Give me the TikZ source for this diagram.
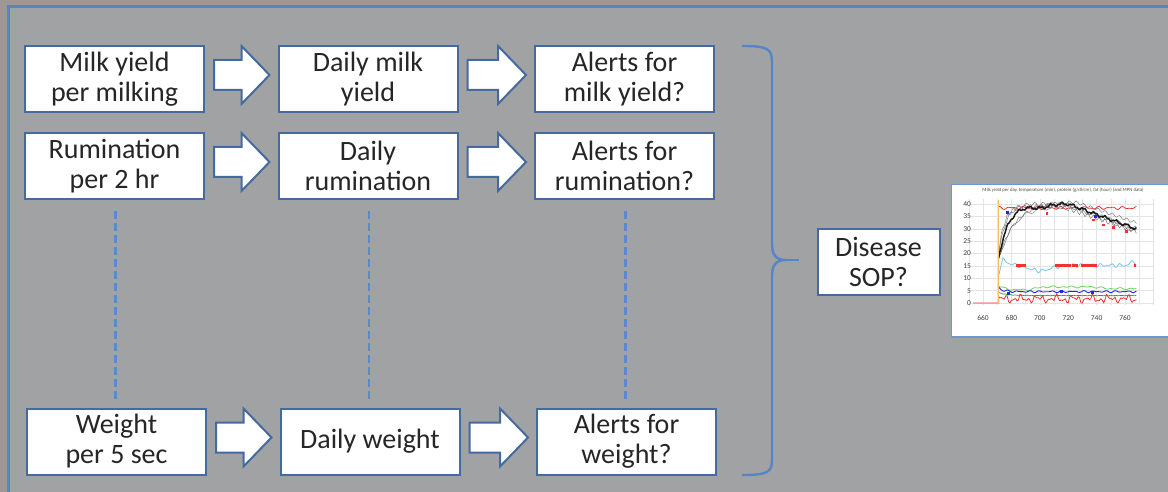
\documentclass[tikz,border=0pt]{standalone}
\usepackage{fontspec}
\setmainfont{Carlito}
\usetikzlibrary{calc}

\definecolor{outerbg}{RGB}{158,151,146}
\definecolor{innerbg}{RGB}{161,162,164}
\definecolor{frameblue}{RGB}{86,132,202}
\definecolor{boxblue}{RGB}{68,106,160}
\definecolor{dashblue}{RGB}{88,138,210}
\definecolor{txt}{RGB}{38,38,38}
\definecolor{chartblue}{RGB}{110,150,210}
\definecolor{gridc}{RGB}{228,228,228}
\definecolor{lblue}{RGB}{120,198,230}
\definecolor{pgreen}{RGB}{110,210,90}
\definecolor{dgreen}{RGB}{40,150,60}
\definecolor{pblue}{RGB}{30,40,220}
\definecolor{pred}{RGB}{240,50,50}
\definecolor{porange}{RGB}{250,190,90}

\tikzset{
  box/.style={draw=boxblue, line width=2pt, fill=white, text=txt, align=center,
    minimum width=179pt, minimum height=66pt, inner sep=0pt,
    font=\fontsize{28}{30}\selectfont},
  blockarrow/.style={draw=boxblue, line width=2pt, fill=white, line join=miter},
  dashline/.style={draw=dashblue, line width=2.8pt, dash pattern=on 8pt off 4pt},
  brace/.style={draw=frameblue, line width=2.4pt},
  ticklab/.style={font=\fontsize{7.5}{8}\selectfont, text=black!75, inner sep=0.5pt},
}

% white block arrow from the right side of one box to the left side of the next
\newcommand\blockarr[2]{%
  \path[blockarrow] let \p1=(#1.east), \p2=(#2.west) in
    ({\x1+9pt},{\y1+19pt}) -- ({\x2-36pt},{\y1+19pt}) -- ({\x2-36pt},{\y1+33pt})
    -- ({\x2-8pt},{\y1+4pt}) -- ({\x2-36pt},{\y1-25pt}) -- ({\x2-36pt},{\y1-11pt})
    -- ({\x1+9pt},{\y1-11pt}) -- cycle;}

\begin{document}
\begin{tikzpicture}[x=1pt,y=-1pt]
\useasboundingbox (0,0) rectangle (1168,492);

% background and frame
\fill[outerbg] (0,0) rectangle (1168,492);
\fill[innerbg] (8.5,6.5) rectangle (1180,500);
\draw[frameblue, line width=3pt] (1180,6.5) -- (8.5,6.5) -- (8.5,500);

% processing chain boxes
\node[box] (a1) at (114.5,79)  {Milk yield\\per milking};
\node[box] (b1) at (368,79)    {Daily milk\\yield};
\node[box] (c1) at (624.5,79)  {Alerts for\\milk yield?};

\node[box] (a2) at (114.5,166) {Rumination\\per 2 hr};
\node[box] (b2) at (368,166)   {Daily\\rumination};
\node[box] (c2) at (624.5,166) {Alerts for\\rumination?};

\node[box] (a3) at (116.5,441.5) {Weight\\per 5 sec};
\node[box] (b3) at (370,441.5)   {Daily weight};
\node[box] (c3) at (626.5,441.5) {Alerts for\\weight?};

% block arrows
\blockarr{a1}{b1}\blockarr{b1}{c1}
\blockarr{a2}{b2}\blockarr{b2}{c2}
\blockarr{a3}{b3}\blockarr{b3}{c3}

% dotted continuation between the rows
\draw[dashline] ($(a2.south)+(1,11)$) -- ($(a2.south |- a3.north)+(1,-7)$);
\draw[dashline] ($(b2.south)+(1,11)$) -- ($(b2.south |- b3.north)+(1,-7)$);
\draw[dashline] ($(c2.south)+(1,11)$) -- ($(c2.south |- c3.north)+(1,-7)$);

% disease SOP box
\node[box, minimum width=122pt, minimum height=66pt] (sop) at (878.5,261.5) {Disease\\SOP?};

% brace gathering all the alerts
\coordinate (braceTip) at (786,260);
\draw[brace] (742,46) .. controls (768,46) and (772,49) .. (772,62) -- (772,244)
  .. controls (772,255) and (776,260) .. (braceTip)
  .. controls (776,260) and (772,265) .. (772,276) -- (772,460)
  .. controls (772,472) and (768,475) .. (742,475);
\draw[brace] (braceTip) -- ($(sop.west)+(-18,-1.5)$);

% lactation chart
\fill[white] (951.5,184.5) rectangle (1175,337);
\draw[chartblue, line width=1.6pt] (1175,184.5) -- (951.5,184.5) -- (951.5,337) -- (1175,337);
\node[font=\fontsize{4.8}{5}\selectfont, text=black!70, inner sep=0pt] (ctitle) at (1063,190)
  {Milk yield per day, temperature (min), protein (g/dl/cm), fat (hour) (and MPN data)};

\begin{scope}[shift={(983,303)}, x=1.42pt, y=2.475pt]
  \clip (-21,-13) rectangle (130,44);
  \draw[gridc, line width=0.4pt] (-10,-1) grid[xstep=10, ystep=5] (120,42);
  \foreach \v in {0,5,...,40} \node[ticklab, anchor=east] (yl\v) at (-8,\v) {\v};
  \foreach \d/\l in {0/660,20/680,40/700,60/720,80/740,100/760}
    \node[ticklab] (xl\l) at (\d,-6) {\l};

  % bottom red trace
  \draw[pred, line width=0.8pt, line join=round] (-7,0) -- (11,0)
    -- plot[domain=11:108, samples=98] (\x,{max(0, 1.6+0.9*sin(\x*71)+0.8*sin(\x*29+40)+0.6*sin(\x*113))});
  % dark green
  \draw[dgreen, line width=0.7pt] plot[domain=11:108, samples=60]
    (\x,{3.0+1.2*exp(-min((\x-11)/6,12))+0.15*sin(\x*97)});
  % green
  \draw[pgreen, line width=0.8pt, line join=round] plot[domain=11:108, samples=98]
    (\x,{5.3+1.8*exp(-min((\x-11)/4,12))+1.2*min(max((\x-32)/10,0),1)-0.7*min(max((\x-78)/10,0),1)+0.25*sin(\x*53)+0.2*sin(\x*31)});
  % blue
  \draw[pblue, line width=0.9pt, line join=round] plot[domain=11:108, samples=98]
    (\x,{4.6+1.6*exp(-min((\x-11)/3,12))+0.25*sin(\x*47)+0.2*sin(\x*67)});
  \foreach \d/\v in {18/3.9,55/4.6,77/4.4}
    \fill[pblue] (\d,\v) ++(-1.5pt,-1.5pt) rectangle ++(3pt,3pt);
  % light blue
  \draw[lblue, line width=0.8pt, line join=round] (11,11) -- plot[domain=14:108, samples=95]
    (\x,{15.2+2.5*exp(-min((\x-14)/4,12))+0.5*sin(\x*53)+0.4*sin(\x*79+70)-2.2*exp(-min(((\x-40)/10)^2,12))+1.6*exp(-min(((\x-106)/3)^2,12))});
  % red markers on the 15 line
  \foreach \d in {24,25.5,28,29.5,52,53.5,55,57,59,61,63.5,66,70,71.5,73,74.5,76,77.5,79,107}
    \fill[pred] (\d,15) ++(-1.4pt,-1.4pt) rectangle ++(2.8pt,2.8pt);
  % red top trace
  \draw[pred, line width=0.8pt, line join=round] plot[domain=11:108, samples=98]
    (\x,{38.4+0.4*sin(\x*41)+0.3*sin(\x*67+20)});
  % thin gray lactation curves
  \begin{scope}[black!55, line width=0.45pt]
    \draw plot[domain=11:108, samples=100] (\x,{19+21*(1-exp(-min((\x-11)/5,12)))-0.2*max(\x-58,0)+0.8*sin(\x*61+30)});
    \draw plot[domain=11:108, samples=100] (\x,{17+22*(1-exp(-min((\x-11)/10,12)))-0.22*max(\x-62,0)+0.7*sin(\x*37+60)});
    \draw plot[domain=11:108, samples=100] (\x,{20+19*(1-exp(-min((\x-11)/4,12)))-0.19*max(\x-55,0)+0.9*sin(\x*89)});
    \draw plot[domain=11:108, samples=100] (\x,{18+23*(1-exp(-min((\x-11)/12,12)))-0.2*max(\x-65,0)+0.6*sin(\x*71+100)});
  \end{scope}
  % thick mean curve
  \draw[black!90, line width=1.5pt, line join=round] plot[domain=11:108, samples=120]
    (\x,{18+22*(1-exp(-min((\x-11)/7,12)))-0.21*max(\x-60,0)-1.3*exp(-min(((\x-40)/8)^2,12))+0.5*sin(\x*47)+0.3*sin(\x*131)});
  \foreach \d/\v in {45/36,78/33.5,85/31.5,92/30.5,101/29}
    \fill[pred] (\d,\v) ++(-1.4pt,-1.4pt) rectangle ++(2.8pt,2.8pt);
  \foreach \d/\v in {17/36.5,79/35}
    \fill[pblue] (\d,\v) ++(-1.4pt,-1.4pt) rectangle ++(2.8pt,2.8pt);
  % calving marker
  \draw[porange, line width=1pt] (11,0) -- (11,41.5);
\end{scope}
\end{tikzpicture}
\end{document}
